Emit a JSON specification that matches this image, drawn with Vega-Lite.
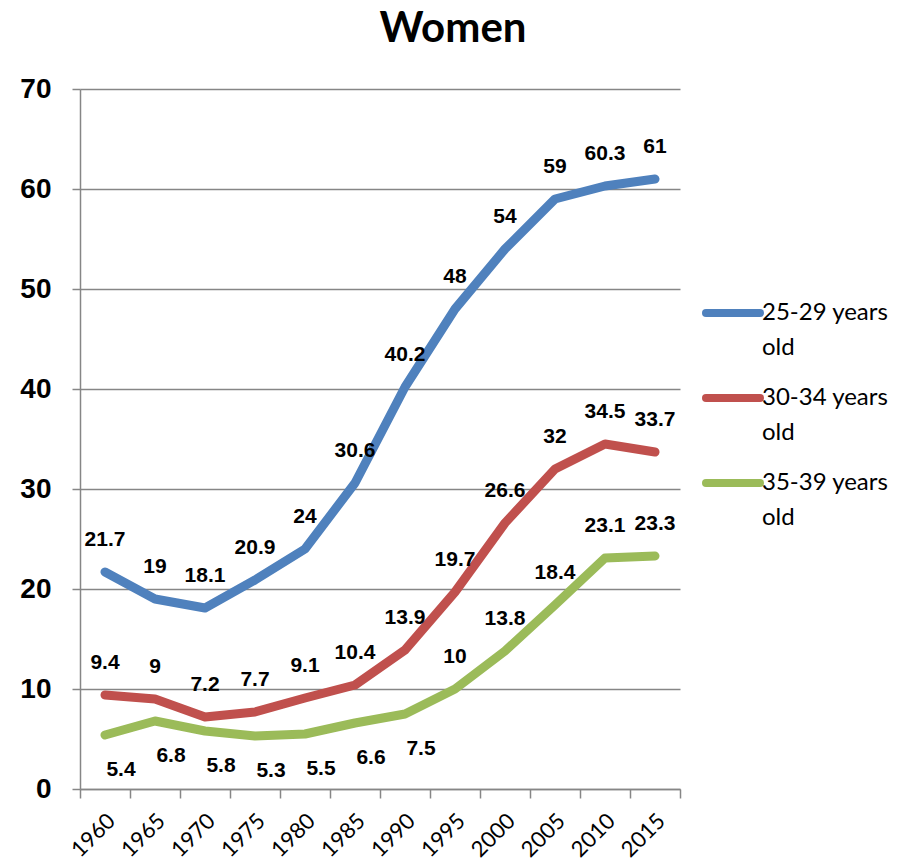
{
  "$schema": "https://vega.github.io/schema/vega-lite/v6.json",
  "width": 600,
  "height": 700,
  "autosize": {"type": "none"},
  "padding": {"left": 80, "top": 89, "right": 222, "bottom": 73},
  "background": "white",
  "config": {"view": {"stroke": null}},
  "title": {"text": "Women", "font": "Lato", "fontSize": 42, "fontWeight": "bold", "color": "black", "anchor": "middle", "offset": 24, "dx": 73},
  "data": {"values": [
    {"year": "1960", "series": "25-29 years old", "value": 21.7},
    {"year": "1965", "series": "25-29 years old", "value": 19},
    {"year": "1970", "series": "25-29 years old", "value": 18.1},
    {"year": "1975", "series": "25-29 years old", "value": 20.9},
    {"year": "1980", "series": "25-29 years old", "value": 24},
    {"year": "1985", "series": "25-29 years old", "value": 30.6},
    {"year": "1990", "series": "25-29 years old", "value": 40.2},
    {"year": "1995", "series": "25-29 years old", "value": 48},
    {"year": "2000", "series": "25-29 years old", "value": 54},
    {"year": "2005", "series": "25-29 years old", "value": 59},
    {"year": "2010", "series": "25-29 years old", "value": 60.3},
    {"year": "2015", "series": "25-29 years old", "value": 61},
    {"year": "1960", "series": "30-34 years old", "value": 9.4},
    {"year": "1965", "series": "30-34 years old", "value": 9},
    {"year": "1970", "series": "30-34 years old", "value": 7.2},
    {"year": "1975", "series": "30-34 years old", "value": 7.7},
    {"year": "1980", "series": "30-34 years old", "value": 9.1},
    {"year": "1985", "series": "30-34 years old", "value": 10.4},
    {"year": "1990", "series": "30-34 years old", "value": 13.9},
    {"year": "1995", "series": "30-34 years old", "value": 19.7},
    {"year": "2000", "series": "30-34 years old", "value": 26.6},
    {"year": "2005", "series": "30-34 years old", "value": 32},
    {"year": "2010", "series": "30-34 years old", "value": 34.5},
    {"year": "2015", "series": "30-34 years old", "value": 33.7},
    {"year": "1960", "series": "35-39 years old", "value": 5.4},
    {"year": "1965", "series": "35-39 years old", "value": 6.8},
    {"year": "1970", "series": "35-39 years old", "value": 5.8},
    {"year": "1975", "series": "35-39 years old", "value": 5.3},
    {"year": "1980", "series": "35-39 years old", "value": 5.5},
    {"year": "1985", "series": "35-39 years old", "value": 6.6},
    {"year": "1990", "series": "35-39 years old", "value": 7.5},
    {"year": "1995", "series": "35-39 years old", "value": 10},
    {"year": "2000", "series": "35-39 years old", "value": 13.8},
    {"year": "2005", "series": "35-39 years old", "value": 18.4},
    {"year": "2010", "series": "35-39 years old", "value": 23.1},
    {"year": "2015", "series": "35-39 years old", "value": 23.3}
  ]},
  "encoding": {
    "x": {
      "field": "year", "type": "ordinal",
      "scale": {"type": "band", "paddingInner": 0, "paddingOuter": 0},
      "bandPosition": 0.5,
      "axis": {
        "title": null, "labelAngle": -45, "labelAlign": "right", "labelBaseline": "middle",
        "labelFont": "Lato", "labelFontSize": 22, "labelColor": "black",
        "labelPadding": 19, "labelOffset": 6,
        "tickBand": "extent", "tickSize": 9, "tickColor": "#868686", "tickWidth": 1.5,
        "domainColor": "#868686", "domainWidth": 1.5, "grid": false
      }
    },
    "y": {
      "field": "value", "type": "quantitative",
      "scale": {"domain": [0, 70]},
      "axis": {
        "title": null, "values": [0, 10, 20, 30, 40, 50, 60, 70],
        "grid": true, "gridColor": "#868686", "gridWidth": 1.5,
        "tickSize": 8, "tickColor": "#868686", "tickWidth": 1.5,
        "domainColor": "#868686", "domainWidth": 1.5,
        "labelFont": "Liberation Sans", "labelFontSize": 28, "labelFontWeight": "bold",
        "labelPadding": 21, "labelColor": "black"
      }
    }
  },
  "layer": [
    {
      "mark": {"type": "line", "strokeWidth": 9, "strokeCap": "round", "strokeJoin": "round"},
      "encoding": {
        "color": {
          "field": "series", "type": "nominal",
          "scale": {"domain": ["25-29 years old", "30-34 years old", "35-39 years old"], "range": ["#4F81BD", "#C0504D", "#9BBB59"]},
          "legend": {
            "title": null, "orient": "none", "legendX": 622, "legendY": 193,
            "symbolType": "stroke", "symbolSize": 2916, "symbolStrokeWidth": 8,
            "labelFont": "Lato", "labelFontSize": 24, "labelColor": "black", "labelLimit": 0,
            "labelOffset": -2, "rowPadding": 7,
            "labelExpr": "[replace(datum.label, ' old', ''), 'old']",
            "encode": {
              "symbols": {"update": {"strokeCap": {"value": "round"}}},
              "labels": {"update": {"lineHeight": {"value": 35}}}
            }
          }
        }
      }
    },
    {
      "transform": [{"filter": "!(datum.series == '35-39 years old' && toNumber(datum.year) <= 1990)"}],
      "mark": {"type": "text", "dy": -32, "font": "Liberation Sans", "fontSize": 21, "fontWeight": "bold", "color": "black"},
      "encoding": {"text": {"field": "value", "type": "quantitative", "format": ""}}
    },
    {
      "transform": [{"filter": "datum.series == '35-39 years old' && toNumber(datum.year) <= 1990"}],
      "mark": {"type": "text", "dy": 35, "dx": 16, "font": "Liberation Sans", "fontSize": 21, "fontWeight": "bold", "color": "black"},
      "encoding": {"text": {"field": "value", "type": "quantitative", "format": ""}}
    }
  ]
}
